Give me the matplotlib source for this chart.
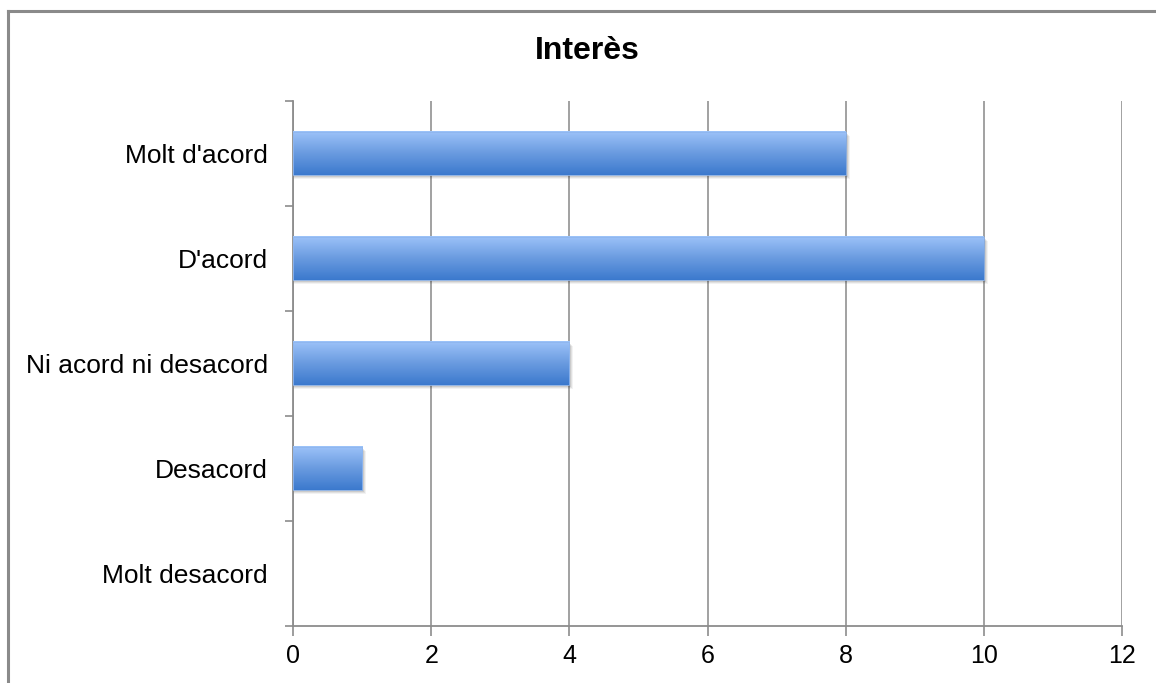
import matplotlib
matplotlib.use('Agg')
import matplotlib.pyplot as plt
import numpy as np
from matplotlib.colors import LinearSegmentedColormap
from matplotlib.patches import Rectangle
from matplotlib.lines import Line2D

plt.rcParams['font.family'] = ['Liberation Sans', 'DejaVu Sans']

categories = ["Molt d'acord", "D'acord", "Ni acord ni desacord", "Desacord", "Molt desacord"]
values = [8, 10, 4, 1, 0]
xticks = [0, 2, 4, 6, 8, 10, 12]
title = "Interès"

fig = plt.figure(figsize=(11.56, 6.83), dpi=100)
ax = fig.add_axes([0.2535, 0.0835, 0.7171, 0.7687])

# frame of the chart area (only top and left visible)
fig.add_artist(Line2D([8 / 1156, 1], [1 - 11 / 683] * 2, transform=fig.transFigure,
                      color='#8a8a8a', lw=2.2))
fig.add_artist(Line2D([8 / 1156] * 2, [0, 1 - 11 / 683], transform=fig.transFigure,
                      color='#8a8a8a', lw=2.2))

cmap = LinearSegmentedColormap.from_list('bar', ['#3b79cd', '#6a9be0', '#9dc3f9'])
grad = np.linspace(0, 1, 256).reshape(-1, 1)
h = 0.41
px_x = 12 / 829.0
px_y = 5 / 525.0

ypos = np.arange(len(categories))
for y, v in zip(ypos, values):
    if v <= 0:
        continue
    # soft shadow
    for k, a in [(4, 0.05), (3, 0.07), (2, 0.09), (1, 0.1)]:
        ax.add_patch(Rectangle((0, y - h / 2 + k * px_y), v + k * px_x, h,
                               facecolor='black', alpha=a, lw=0, zorder=2))
    ax.imshow(grad, cmap=cmap, aspect='auto', extent=[0, v, y + h / 2, y - h / 2],
              origin='lower', zorder=3, interpolation='bilinear')
    ax.add_patch(Rectangle((0, y - h / 2), v, h, facecolor='none',
                           edgecolor='#8fb6ee', lw=0.6, zorder=4))

ax.set_xlim(0, 12)
ax.set_ylim(len(categories) - 0.5, -0.5)

ax.set_xticks(xticks)
ax.set_xticklabels([str(t) for t in xticks], fontsize=18)
ax.set_yticks(np.arange(len(categories) + 1) - 0.5)
ax.set_yticklabels([])
ax.set_yticks(ypos, minor=True)
ax.set_yticklabels(categories, minor=True, fontsize=19)
ax.tick_params(axis='y', which='minor', length=0, pad=18)
ax.tick_params(axis='y', which='major', length=6, width=1.2, color='#8c8c8c', direction='out')
ax.tick_params(axis='x', length=7, width=1.2, color='#8c8c8c', direction='out', pad=6)

ax.grid(axis='x', color='#9a9a9a', lw=1.3, zorder=1)
ax.set_axisbelow(True)
for s in ['top', 'right']:
    ax.spines[s].set_visible(False)
for s in ['left', 'bottom']:
    ax.spines[s].set_color('#8c8c8c')
    ax.spines[s].set_linewidth(1.3)

fig.text(587 / 1156, 1 - 51 / 683, title, ha='center', va='center',
         fontsize=23, fontweight='bold')

fig.savefig('out.png', dpi=100, facecolor='white')
